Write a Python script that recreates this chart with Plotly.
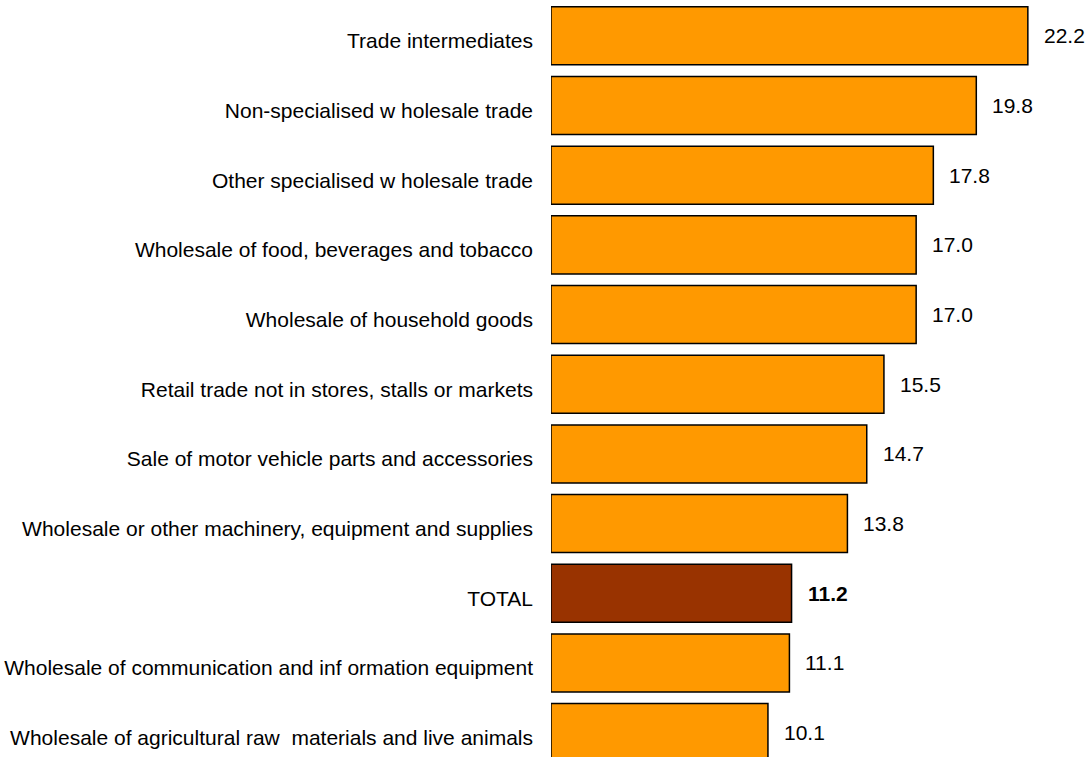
import plotly.graph_objects as go

categories = [
    "Trade intermediates",
    "Non-specialised w holesale trade",
    "Other specialised w holesale trade",
    "Wholesale of food, beverages and tobacco",
    "Wholesale of household goods",
    "Retail trade not in stores, stalls or markets",
    "Sale of motor vehicle parts and accessories",
    "Wholesale or other machinery, equipment and supplies",
    "TOTAL",
    "Wholesale of communication and inf ormation equipment",
    "Wholesale of agricultural raw  materials and live animals",
]
values = [22.2, 19.8, 17.8, 17.0, 17.0, 15.5, 14.7, 13.8, 11.2, 11.1, 10.1]

ORANGE = "#FF9900"
TOTAL_COLOR = "#993300"
FONT = "Liberation Sans, Arial, sans-serif"
FONT_SIZE = 21

colors = [TOTAL_COLOR if c == "TOTAL" else ORANGE for c in categories]

fig = go.Figure(
    go.Bar(
        x=values,
        y=categories,
        orientation="h",
        marker=dict(color=colors, line=dict(color="#000000", width=1.5)),
        hoverinfo="skip",
    )
)

# value labels to the right of each bar
for c, v in zip(categories, values):
    txt = f"<b>{v:.1f}</b>" if c == "TOTAL" else f"{v:.1f}"
    fig.add_annotation(
        x=v, y=c, text=txt, showarrow=False,
        xanchor="left", yanchor="middle", xshift=14,
        font=dict(family=FONT, size=FONT_SIZE, color="#000000"),
    )

fig.update_layout(
    width=1091,
    height=757,
    margin=dict(l=551, r=0, t=1, b=0),
    paper_bgcolor="white",
    plot_bgcolor="white",
    bargap=0.167,
    showlegend=False,
    font=dict(family=FONT, size=FONT_SIZE, color="#000000"),
)
fig.update_xaxes(range=[0, 25.14], visible=False, showgrid=False, zeroline=False)
fig.update_yaxes(
    categoryorder="array",
    categoryarray=categories,
    range=[10.35, -0.5],
    showgrid=False,
    zeroline=False,
    showline=False,
    ticks="",
    ticklabelstandoff=17,
    ticklabelshift=-5,
    tickfont=dict(family=FONT, size=FONT_SIZE, color="#000000"),
)

fig.write_html("out.html")
